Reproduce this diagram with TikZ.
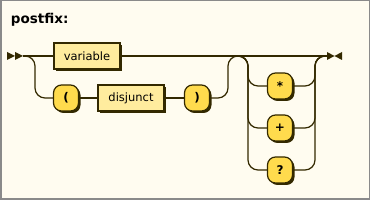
\documentclass[tikz,border=0pt]{standalone}
\usepackage{fontspec}
\setmainfont{DejaVu Sans}
\usetikzlibrary{shadows}
\definecolor{bgcream}{HTML}{FFFCF0}
\definecolor{railc}{HTML}{332900}
\definecolor{ntfill}{HTML}{FFEC9E}
\definecolor{tfill}{HTML}{FFDB4D}
\definecolor{framegray}{HTML}{8A8A8A}

\begin{document}
\begin{tikzpicture}[x=1pt,y=-1pt,line width=1.2pt,every node/.style={font=\fontsize{11.5}{13}\selectfont}]
\tikzstyle{nonterm}=[draw=railc,fill=ntfill,minimum width=66pt,minimum height=26pt,inner sep=0pt,drop shadow={shadow xshift=2pt,shadow yshift=-2pt,fill=railc,opacity=1}]
\tikzstyle{term}=[nonterm,fill=tfill,rounded corners=8pt,minimum width=25pt,font=\fontsize{12}{14}\selectfont\bfseries]
\tikzstyle{track}=[draw=railc,rounded corners=10pt]
\useasboundingbox (0,0) rectangle (370,200);
\draw[fill=bgcream,draw=framegray,line width=1.5pt] (0.75,0.75) rectangle (369.25,199.25);
\node[anchor=base west,font=\fontsize{13.5}{15}\selectfont\bfseries] (title) at (7,24) {postfix:};
% start and end markers
\coordinate (start) at (23,56);
\coordinate (finish) at (327,56);
\fill[railc] (7,52) -- (15,56) -- (7,60) -- cycle (15,52) -- (23,56) -- (15,60) -- cycle;
\fill[railc] (327,52) -- (334.5,56) -- (327,60) -- cycle (342,52) -- (334.5,56) -- (342,60) -- cycle;
% items
\node[nonterm] (variable) at (87,56) {variable};
\node[term] (lparen) at (66,98) {(};
\node[nonterm] (disjunct) at (131,98) {disjunct};
\node[term] (rparen) at (197,98) {)};
\node[term] (star) at (280,86) {*};
\node[term] (plus) at (280,128) {+};
\node[term] (quest) at (280,170) {?};
% rails
\draw[track] (start) -- (variable.west);
\draw[track] (variable.east) -- (finish);
\draw[track] (start) -- (35,56) -- (35,98) -- (lparen.west);
\draw[track] (lparen) -- (disjunct);
\draw[track] (disjunct) -- (rparen);
\draw[track] (rparen.east) -- (228,98) -- (228,56) -- (248,56) -- (248,86) -- (star.west);
\draw[track] (238,56) -- (248,56) -- (248,128) -- (plus.west);
\draw[track] (238,56) -- (248,56) -- (248,170) -- (quest.west);
\draw[track] (star.east) -- (315,86) -- (315,56) -- (finish);
\draw[track] (plus.east) -- (315,128) -- (315,56) -- (finish);
\draw[track] (quest.east) -- (315,170) -- (315,56) -- (finish);
\end{tikzpicture}
\end{document}
